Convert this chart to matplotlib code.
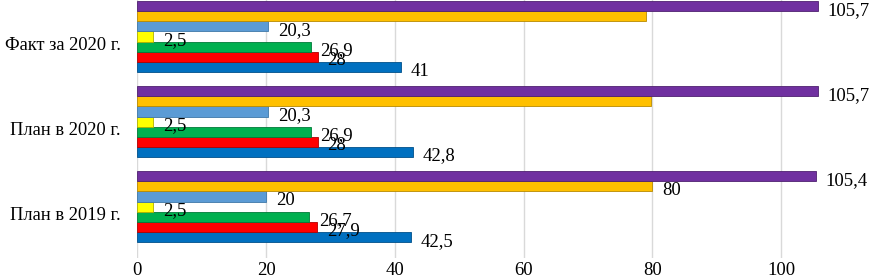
import matplotlib.pyplot as plt
import matplotlib.transforms as mtransforms
import numpy as np

plt.switch_backend('Agg')
plt.rcParams['font.family'] = ['Liberation Serif', 'DejaVu Serif']

# categories, bottom to top
categories = ['План в 2019 г.', 'План в 2020 г.', 'Факт за 2020 г.']

# series, drawn bottom to top inside each group
blue = [42.5, 42.8, 41]
red = [27.9, 28, 28]
green = [26.7, 26.9, 26.9]
yellow = [2.5, 2.5, 2.5]
lightblue = [20, 20.3, 20.3]
gold = [80, 79.8, 79]
purple = [105.4, 105.7, 105.7]

series = [blue, red, green, yellow, lightblue, gold, purple]
colors = ['#0070C0', '#FF0000', '#00B050', '#FFFF00', '#5B9BD5', '#FFC000', '#7030A0']
edges = ['#00508a', '#b00000', '#007a38', '#b0b000', '#3f78a8', '#b88a00', '#4e2070']
# which labels are visible (the gold ones of 2020 are hidden in the original)
show = [[True] * 3, [True] * 3, [True] * 3, [True] * 3, [True] * 3,
        [True, False, False], [True] * 3]

fig = plt.figure(figsize=(8.69, 2.8), dpi=100)
ax = fig.add_axes([0.158, 0.08, 0.83, 0.92])

y = np.arange(len(categories))
h = 0.119
n = len(series)

for i, (vals, c, ec) in enumerate(zip(series, colors, edges)):
    pos = y - (n - 1) / 2 * h + i * h
    ax.barh(pos, vals, height=h, color=c, edgecolor=ec, linewidth=0.6, zorder=3)
    for j, v in enumerate(vals):
        if not show[i][j]:
            continue
        txt = ('%g' % v).replace('.', ',')
        ax.annotate(txt, (v, pos[j]), xytext=(7, -3), textcoords='offset points',
                    ha='left', va='center', fontsize=13.5, zorder=4, annotation_clip=False)

ax.set_xlim(0, 112)
ax.set_ylim(-0.6, 2.43)
ax.set_yticks(y)
ax.set_yticklabels(categories, fontsize=13.3)
ax.set_xticks([0, 20, 40, 60, 80, 100])
ax.tick_params(axis='x', labelsize=13.5, length=0, pad=3)
ax.tick_params(axis='y', length=0, pad=12)
# category labels sit a little below the group centre in the original
shift = mtransforms.ScaledTranslation(0, -5 / 72, fig.dpi_scale_trans)
for lab in ax.get_yticklabels():
    lab.set_transform(lab.get_transform() + shift)
ax.grid(axis='x', color='#d9d9d9', linewidth=1, zorder=0)
for s in ax.spines.values():
    s.set_visible(False)

plt.savefig('out.png', dpi=100)
